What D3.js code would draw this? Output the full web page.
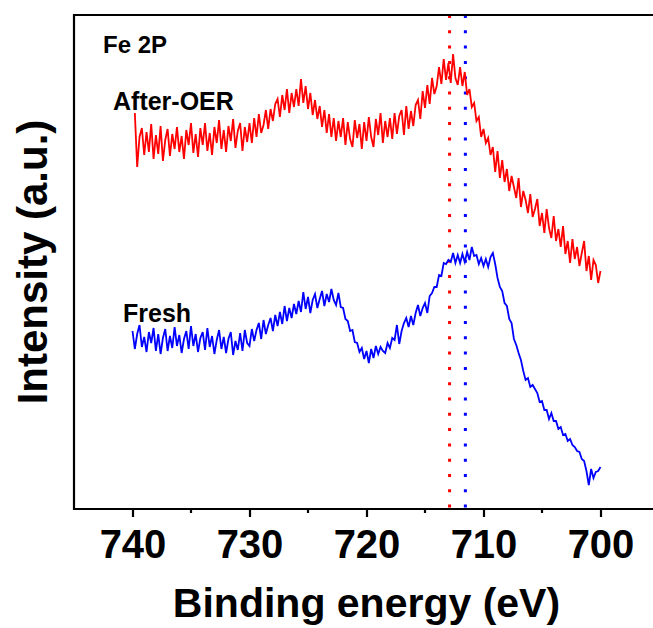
<!DOCTYPE html>
<html>
<head>
<meta charset="utf-8">
<script src="https://cdn.jsdelivr.net/npm/d3@7"></script>
<style>
	body { margin: 0; background: #fff; }
	text { font-family: 'Liberation Sans', Arial, sans-serif; font-weight: bold; fill: #000; }
</style>
</head>
<body>
<script>
// Binding energy grid (eV), 0.2 eV steps from 740 down to 700
var energies = d3.range(0, 201).map(function(i) { return +(740 - i * 0.2).toFixed(1); });

// After-OER intensity (a.u.)
var afterOER = [
	352, 396, 342, 372, 381, 354, 377, 357, 385, 350,
	374, 355, 383, 348, 369, 380, 353, 375, 360, 382,
	357, 373, 350, 379, 364, 386, 356, 375, 352, 381,
	364, 386, 358, 376, 354, 382, 366, 389, 360, 379,
	357, 383, 368, 390, 361, 378, 386, 358, 382, 367,
	386, 366, 391, 372, 395, 376, 384, 399, 380, 400,
	388, 405, 410, 392, 414, 399, 420, 396, 416, 402,
	420, 403, 430, 406, 423, 400, 416, 394, 409, 390,
	403, 382, 399, 376, 395, 372, 391, 368, 388, 372,
	391, 364, 387, 370, 362, 389, 371, 385, 360, 387,
	368, 392, 372, 362, 390, 374, 396, 366, 388, 372,
	391, 370, 396, 375, 393, 399, 374, 403, 380, 398,
	383, 404, 409, 390, 418, 401, 424, 405, 431, 415,
	423, 442, 425, 450, 429, 446, 426, 455, 431, 424,
	442, 423, 437, 414, 420, 402, 406, 388, 392, 372,
	380, 366, 371, 354, 362, 337, 358, 331, 349, 327,
	340, 318, 333, 322, 311, 331, 302, 318, 309, 296,
	315, 292, 300, 310, 283, 296, 276, 300, 281, 271,
	293, 268, 280, 262, 283, 255, 268, 246, 270, 250,
	262, 243, 256, 268, 238, 253, 229, 249, 244, 226,
	238
];

// Fresh intensity (a.u.)
var fresh = [
	178, 160, 175, 184, 162, 172, 157, 177, 166, 181,
	158, 175, 155, 171, 180, 158, 173, 161, 182, 163,
	174, 156, 170, 178, 160, 183, 163, 175, 157, 171,
	177, 159, 181, 162, 173, 155, 169, 179, 160, 172,
	156, 170, 177, 154, 168, 159, 176, 158, 179, 166,
	163, 180, 168, 179, 186, 170, 189, 175, 184, 191,
	178, 194, 183, 197, 185, 203, 188, 201, 191, 205,
	195, 208, 197, 217, 200, 212, 196, 209, 215, 201,
	210, 218, 203, 215, 207, 220, 209, 204, 216, 202,
	201, 190, 188, 178, 179, 167, 166, 157, 161, 150,
	158, 146, 160, 151, 163, 155, 162, 158, 156, 166,
	161, 171, 169, 184, 165, 178, 186, 191, 182, 193,
	184, 196, 204, 193, 201, 206, 196, 213, 216, 222,
	222, 234, 233, 246, 245, 249, 247, 256, 246, 254,
	246, 255, 247, 257, 249, 262, 253, 254, 245, 251,
	243, 250, 242, 252, 256, 245, 231, 222, 218, 206,
	203, 190, 186, 170, 164, 156, 149, 138, 129, 131,
	122, 124, 120, 116, 107, 108, 99, 99, 90, 96,
	88, 88, 80, 82, 74, 75, 68, 70, 64, 62,
	58, 57, 50, 48, 38, 24, 40, 31, 37, 38,
	42
];

var majorTicks = [740, 730, 720, 710, 700];
var minorTicks = [735, 725, 715, 705];
var markers = [
	{ e: 712.9, color: '#ff0000' },
	{ e: 711.55, color: '#0000ff' }
];

var width = 653, height = 628;
var plot = { left: 74, right: 659, top: 15, bottom: 509 };

var x = d3.scaleLinear().domain([745, 695]).range([plot.left, plot.right]);
var y = d3.scaleLinear().domain([0, 494]).range([plot.bottom, plot.top]);

var svg = d3.select('body').append('svg')
	.attr('width', width)
	.attr('height', height);

// dotted marker lines
svg.selectAll('.marker')
	.data(markers)
	.enter().append('line')
		.attr('class', 'marker')
		.attr('x1', function(d) { return x(d.e); })
		.attr('x2', function(d) { return x(d.e); })
		.attr('y1', plot.top)
		.attr('y2', plot.bottom)
		.attr('stroke', function(d) { return d.color; })
		.attr('stroke-width', 3)
		.attr('stroke-dasharray', '3,12.3');

// spectra
var line = d3.line()
	.x(function(d) { return x(d[0]); })
	.y(function(d) { return y(d[1]); });

svg.append('path')
	.datum(d3.zip(energies, fresh))
	.attr('d', line)
	.attr('fill', 'none')
	.attr('stroke', '#0000ff')
	.attr('stroke-width', 1.8);

svg.append('path')
	.datum(d3.zip(energies.slice(1), afterOER.slice(1)))
	.attr('d', line)
	.attr('fill', 'none')
	.attr('stroke', '#ff0000')
	.attr('stroke-width', 1.8);

// frame
svg.append('path')
	.attr('d', 'M' + plot.right + ',' + plot.top + 'H' + plot.left + 'V' + plot.bottom + 'H' + plot.right)
	.attr('fill', 'none')
	.attr('stroke', '#000')
	.attr('stroke-width', 2.2);

// x axis
var xAxis = svg.append('g')
	.attr('transform', 'translate(0,' + plot.bottom + ')')
	.call(d3.axisBottom(x).tickValues(majorTicks).tickSize(8).tickFormat(d3.format('d')));
xAxis.select('.domain').remove();
xAxis.selectAll('line').attr('stroke-width', 2.2);
xAxis.selectAll('text')
	.attr('dy', null)
	.attr('y', 49)
	.attr('font-family', null)
	.attr('font-size', null)
	.style('font-size', '40px');

svg.append('g')
	.attr('transform', 'translate(0,' + plot.bottom + ')')
	.selectAll('line')
	.data(minorTicks)
	.enter().append('line')
		.attr('x1', function(d) { return x(d); })
		.attr('x2', function(d) { return x(d); })
		.attr('y2', 4)
		.attr('stroke', '#000')
		.attr('stroke-width', 2.2);

// labels
svg.append('text')
	.attr('x', (plot.left + plot.right) / 2)
	.attr('y', 617)
	.style('font-size', '41px')
	.style('text-anchor', 'middle')
	.text('Binding energy (eV)');

svg.append('text')
	.attr('transform', 'rotate(-90)')
	.attr('x', -(plot.top + plot.bottom) / 2)
	.attr('y', 47)
	.style('font-size', '42px')
	.style('text-anchor', 'middle')
	.text('Intensity (a.u.)');

svg.append('text')
	.attr('x', 103)
	.attr('y', 53)
	.style('font-size', '24px')
	.text('Fe 2P');

svg.append('text')
	.attr('x', 113)
	.attr('y', 110)
	.style('font-size', '25px')
	.text('After-OER');

svg.append('text')
	.attr('x', 123)
	.attr('y', 322)
	.style('font-size', '25px')
	.text('Fresh');
</script>
</body>
</html>
